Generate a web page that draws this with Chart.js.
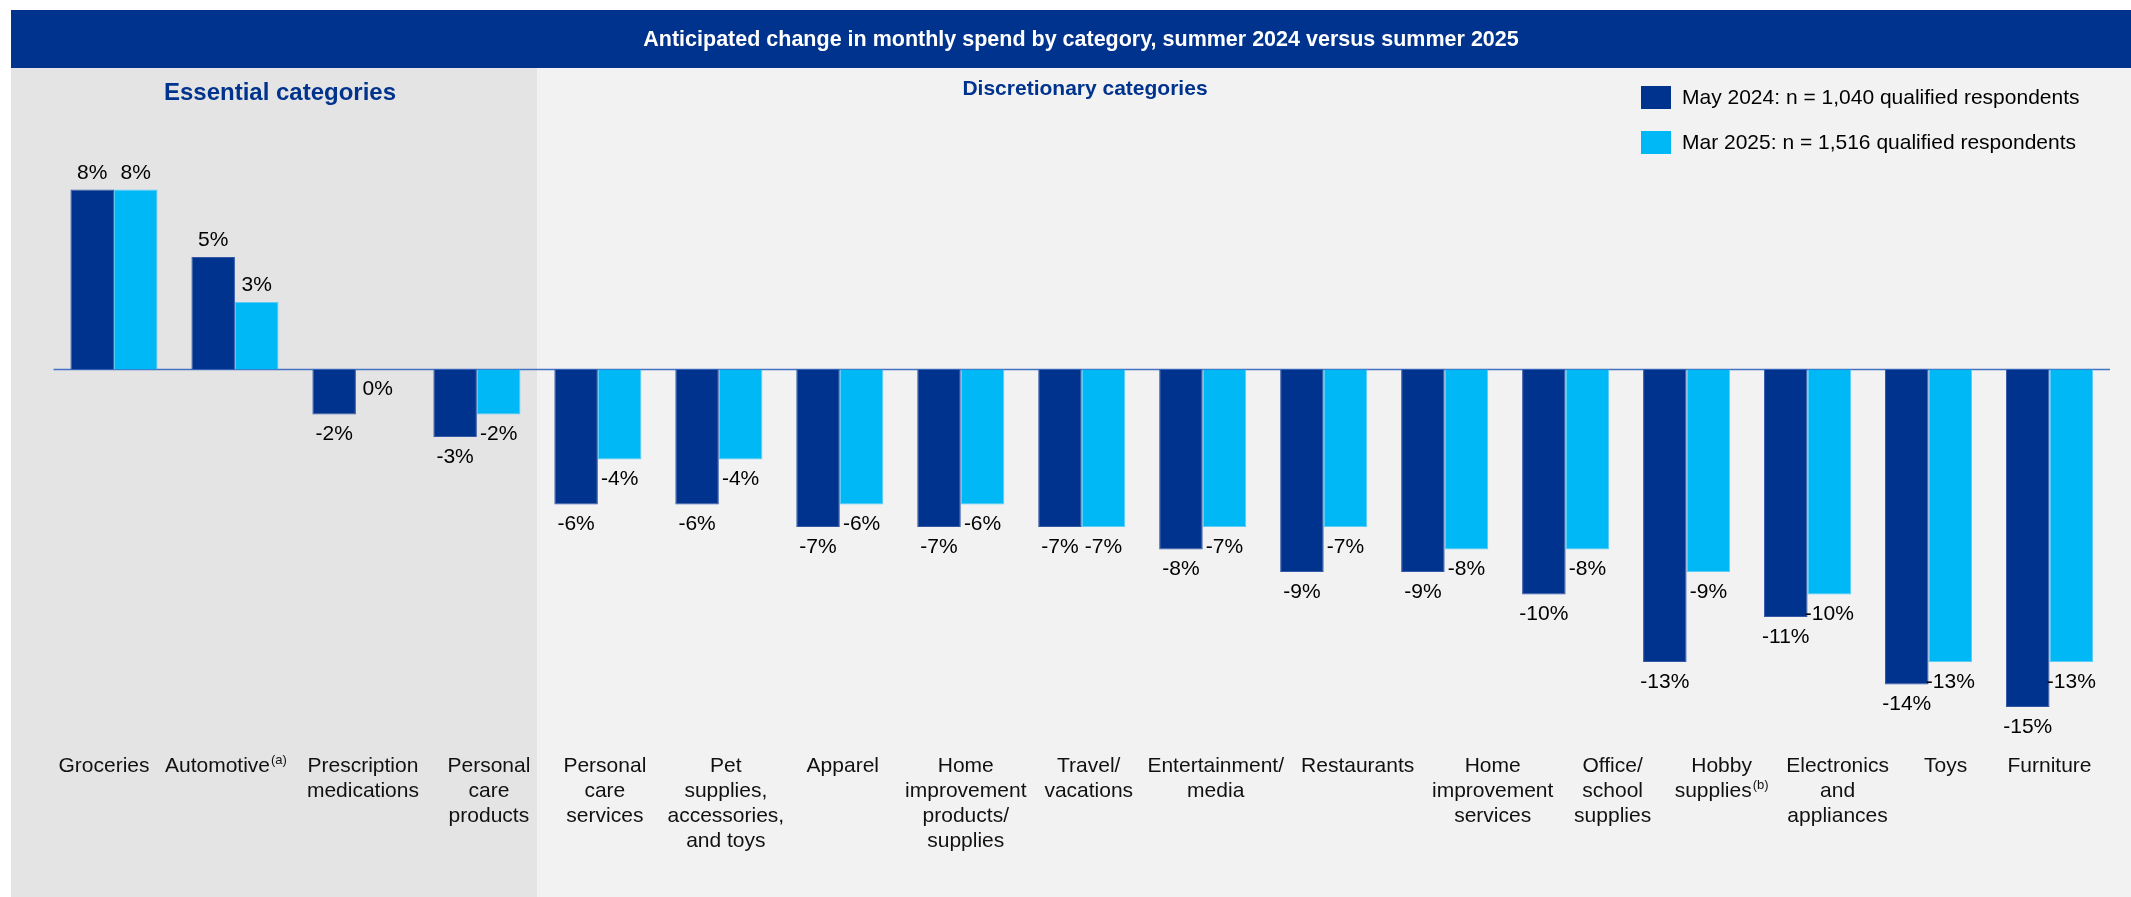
<!DOCTYPE html>
<html>
<head>
<meta charset="utf-8">
<title>Anticipated change in monthly spend by category</title>
<script src="https://cdn.jsdelivr.net/npm/chart.js@4.4.1/dist/chart.umd.min.js"></script>
<style>
  html, body { margin: 0; padding: 0; background: #fff; }
  #wrap { width: 2131px; height: 897px; }
</style>
</head>
<body>
<div id="wrap"><canvas id="spendChart" width="2131" height="897"></canvas></div>
<script>
const chartTitle = 'Anticipated change in monthly spend by category, summer 2024 versus summer 2025';
const groupTitles = ['Essential categories', 'Discretionary categories'];
const essentialCount = 4;

// category names, one entry per line of the axis label
const categories = [
    ['Groceries'],
    ['Automotive'],
    ['Prescription', 'medications'],
    ['Personal', 'care', 'products'],
    ['Personal', 'care', 'services'],
    ['Pet', 'supplies,', 'accessories,', 'and toys'],
    ['Apparel'],
    ['Home', 'improvement', 'products/', 'supplies'],
    ['Travel/', 'vacations'],
    ['Entertainment/', 'media'],
    ['Restaurants'],
    ['Home', 'improvement', 'services'],
    ['Office/', 'school', 'supplies'],
    ['Hobby', 'supplies'],
    ['Electronics', 'and', 'appliances'],
    ['Toys'],
    ['Furniture']
];
// footnote markers written as superscripts after the last line
const footnotes = ['', '(a)', '', '', '', '', '', '', '', '', '', '', '', '(b)', '', '', ''];

const seriesNames = [
    'May 2024: n = 1,040 qualified respondents',
    'Mar 2025: n = 1,516 qualified respondents'
];
const may2024 = [8, 5, -2, -3, -6, -6, -7, -7, -7, -8, -9, -9, -10, -13, -11, -14, -15];
const mar2025 = [8, 3, 0, -2, -4, -4, -6, -6, -7, -7, -7, -8, -8, -9, -10, -13, -13];

// horizontal shift of each axis label from its category centre (px)
const labelNudge = [-10, -9, 7, 12, 7, 7, 3, 5, 7, 13, 34, 48, 47, 35, 30, 17, 0];

const NAVY = '#00338D';
const SKY = '#00B8F5';
const FONT = "'Liberation Sans', Arial, Helvetica, sans-serif";

Chart.defaults.font.family = FONT;
Chart.defaults.color = '#000';

// panels, banner and section headings behind the bars
const backdrop = {
    id: 'backdrop',
    beforeDraw(chart) {
        const { ctx, width, height } = chart;
        const x = chart.scales.x;
        const split = (x.getPixelForValue(essentialCount - 1) + x.getPixelForValue(essentialCount)) / 2;
        ctx.save();
        ctx.fillStyle = '#fff';
        ctx.fillRect(0, 0, width, height);
        ctx.fillStyle = '#E4E4E4';
        ctx.fillRect(11, 68, split - 11, height - 68);
        ctx.fillStyle = '#F2F2F2';
        ctx.fillRect(split, 68, width - split, height - 68);
        ctx.fillStyle = NAVY;
        ctx.fillRect(11, 10, width - 11, 58);

        ctx.textAlign = 'center';
        ctx.textBaseline = 'middle';
        ctx.fillStyle = '#fff';
        ctx.font = 'bold 21.5px ' + FONT;
        ctx.fillText(chartTitle, 1081, 40);

        ctx.fillStyle = NAVY;
        ctx.font = 'bold 24px ' + FONT;
        ctx.fillText(groupTitles[0], 280, 93);
        ctx.font = 'bold 21px ' + FONT;
        ctx.fillText(groupTitles[1], 1085, 89);
        ctx.restore();
    },
    beforeDatasetsDraw(chart) {
        // zero line across the plot
        const { ctx, chartArea } = chart;
        const y0 = chart.scales.y.getPixelForValue(0);
        ctx.save();
        ctx.strokeStyle = '#4472C4';
        ctx.lineWidth = 1.5;
        ctx.beginPath();
        ctx.moveTo(chartArea.left, y0);
        ctx.lineTo(chartArea.right, y0);
        ctx.stroke();
        ctx.restore();
    }
};

// value labels, category labels and the legend at top right
const annotate = {
    id: 'annotate',
    afterDatasetsDraw(chart) {
        const { ctx, chartArea } = chart;
        const x = chart.scales.x;
        ctx.save();
        ctx.font = '21px ' + FONT;
        ctx.fillStyle = '#000';
        ctx.textAlign = 'center';
        ctx.textBaseline = 'alphabetic';
        chart.data.datasets.forEach((ds, di) => {
            chart.getDatasetMeta(di).data.forEach((bar, i) => {
                const v = ds.data[i];
                const y = v > 0 ? bar.y - 11 : bar.y + 25.5;
                ctx.fillText(v + '%', bar.x, y);
            });
        });

        // category labels with optional superscript note
        const lineH = 25;
        const firstY = chartArea.bottom + 14;
        ctx.textAlign = 'left';
        ctx.textBaseline = 'middle';
        ctx.fillStyle = '#111';
        categories.forEach((lines, i) => {
            const cx = x.getPixelForValue(i) + labelNudge[i];
            lines.forEach((line, k) => {
                const note = k === lines.length - 1 ? footnotes[i] : '';
                ctx.font = '21px ' + FONT;
                const w = ctx.measureText(line).width;
                ctx.font = '13px ' + FONT;
                const wn = note ? ctx.measureText(note).width + 1 : 0;
                const left = cx - (w + wn) / 2;
                const y = firstY + k * lineH;
                ctx.font = '21px ' + FONT;
                ctx.fillText(line, left, y);
                if (note) {
                    ctx.font = '13px ' + FONT;
                    ctx.fillText(note, left + w + 1, y - 6);
                }
            });
        });

        const colors = [NAVY, SKY];
        const rows = [98, 143];
        ctx.font = '21px ' + FONT;
        seriesNames.forEach((name, i) => {
            ctx.fillStyle = colors[i];
            ctx.fillRect(1641, rows[i] - 12, 30, 23);
            ctx.fillStyle = '#000';
            ctx.fillText(name, 1682, rows[i]);
        });
        ctx.restore();
    }
};

new Chart(document.getElementById('spendChart'), {
    type: 'bar',
    data: {
        labels: categories.map((lines, i) => lines.join(' ') + footnotes[i]),
        datasets: [
            {
                label: seriesNames[0],
                data: may2024,
                backgroundColor: NAVY,
                borderColor: '#3558A6',
                borderWidth: 1
            },
            {
                label: seriesNames[1],
                data: mar2025,
                backgroundColor: SKY,
                borderColor: '#5CCBF5',
                borderWidth: 1
            }
        ]
    },
    options: {
        responsive: false,
        animation: false,
        devicePixelRatio: 1,
        categoryPercentage: 0.72,
        barPercentage: 1.0,
        layout: { padding: { left: 53.5, right: 21, top: 144.5, bottom: 0 } },
        plugins: {
            legend: { display: false },
            tooltip: { enabled: false }
        },
        scales: {
            x: {
                grid: { display: false, drawTicks: false },
                border: { display: false },
                ticks: { display: false },
                afterFit(scale) { scale.height = 145; }
            },
            y: {
                display: false,
                min: -17,
                max: 10
            }
        }
    },
    plugins: [backdrop, annotate]
});
</script>
</body>
</html>
